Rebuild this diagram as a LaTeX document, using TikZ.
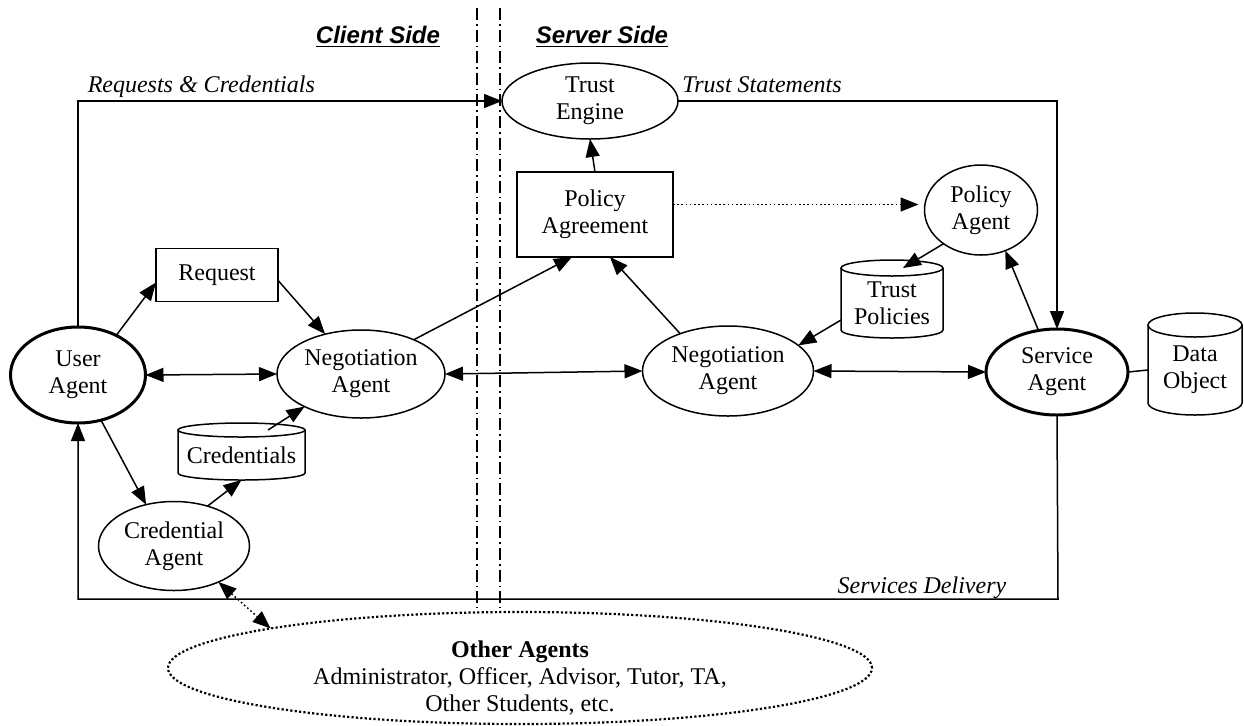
\documentclass[tikz,border=0pt]{standalone}
\usepackage{fontspec}
\setmainfont{Liberation Serif}
\newfontfamily\hsans{Liberation Sans}
\usetikzlibrary{shapes.geometric,arrows.meta}
\begin{document}
\begin{tikzpicture}[x=0.5pt,y=-0.5pt, line width=0.75pt,
  >={Triangle[length=9pt,width=7pt]},
  txt/.style={font=\fontsize{12pt}{13.5pt}\selectfont, align=center},
  ell/.style={txt, ellipse, draw, inner sep=0pt, outer sep=0pt},
  thickell/.style={ell, line width=1.5pt},
  box/.style={txt, rectangle, draw, inner sep=0pt, outer sep=0pt},
  cylnode/.style={txt, rectangle, inner sep=0pt, outer sep=0pt},
  dotline/.style={dash pattern=on 0.8pt off 1.3pt},
  bigdots/.style={line width=1.1pt, dash pattern=on 1.1pt off 1.1pt},
  sepline/.style={dash pattern=on 6pt off 2pt on 0.8pt off 2pt, line width=0.65pt},
  lab/.style={font=\fontsize{12pt}{13.5pt}\selectfont\itshape, inner sep=0pt},
  side/.style={font=\hsans\bfseries\itshape\fontsize{12pt}{14pt}\selectfont, inner sep=0pt}
]
\useasboundingbox (0,0) rectangle (1244,725);

% separators
\draw[sepline] (477,8) -- (477,608);
\draw[sepline] (500,8) -- (500,608);
\node[side] (cs) at (378,37) {\underline{Client Side}};
\node[side] (ss) at (602,37) {\underline{Server Side}};

% nodes
\node[thickell, minimum width=67.5pt, minimum height=48pt] (ua) at (78,375) {User\\Agent};
\node[box, minimum width=61pt, minimum height=26.5pt] (req) at (217,275) {Request};
\node[ell, minimum width=84pt, minimum height=44pt] (cneg) at (361,374) {Negotiation\\Agent};
\node[ell, minimum width=85.5pt, minimum height=45pt] (sneg) at (728,371) {Negotiation\\Agent};
\node[thickell, minimum width=71pt, minimum height=43pt] (sa) at (1057,372) {Service\\Agent};
\node[box, minimum width=78pt, minimum height=42.5pt] (pa) at (595,214.5) {Policy\\Agreement};
\node[ell, minimum width=88pt, minimum height=38pt] (te) at (590,101) {Trust\\Engine};
\node[ell, minimum width=56.5pt, minimum height=45pt] (pagt) at (981,210) {Policy\\Agent};
\node[ell, minimum width=75.5pt, minimum height=44.5pt] (ca) at (174,546) {Credential\\Agent};
\node[ellipse, draw, bigdots, minimum width=352pt, minimum height=56pt, inner sep=0pt, outer sep=0pt] (oa) at (520,668) {};
\node[txt] (oat) at (520,678) {\textbf{Other Agents}\\Administrator, Officer, Advisor, Tutor, TA,\\Other Students, etc.};

% cylinders
\draw (178,430) -- (178,473) arc[start angle=180,end angle=360,x radius=31.75pt,y radius=3.5pt] -- (305,430);
\draw (241.5,430) ellipse[x radius=31.75pt, y radius=3.5pt];
\node[cylnode, minimum width=63.5pt, minimum height=25pt] (cred) at (241.5,455) {Credentials};

\draw (841,268) -- (841,330) arc[start angle=180,end angle=360,x radius=25.5pt,y radius=4pt] -- (943,268);
\draw (892,268) ellipse[x radius=25.5pt, y radius=4pt];
\node[cylnode, minimum width=51pt, minimum height=35pt] (tp) at (892,303) {Trust\\Policies};

\draw (1148,325) -- (1148,403) arc[start angle=180,end angle=360,x radius=23.5pt,y radius=6pt] -- (1242,325);
\draw (1195,325) ellipse[x radius=23.5pt, y radius=6pt];
\node[cylnode, minimum width=47pt, minimum height=45pt] (do) at (1195,370) {Data\\Object};

% connectors
\draw[->] (ua.46) -- (req.187);
\draw[->] (req.355) -- (cneg.132);
\draw[<->] (ua.east) -- (cneg.west);
\draw[<->] (cneg.east) -- (sneg.west);
\draw[<->] (sneg.east) -- (sa.west);
\draw[->] (cneg.33) -- ([xshift=-11.5pt]pa.south);
\draw[->] (sneg.142) -- ([xshift=7.5pt]pa.south);
\draw[->] (pa.north) -- (te.south);
\draw[->, dotline, shorten >=3pt] ([yshift=5pt]pa.east) -- ([yshift=5pt]pa.east -| pagt.west);
\draw[->] (pagt.222) -- ([xshift=5.5pt]tp.north);
\draw[->] (sa.114) -- (pagt.301);
\draw[->] ([yshift=-8.5pt]tp.west) -- (sneg.20);
\draw[->] (ua.297) -- (ca.124);
\draw[->] (ca.50) -- (cred.south);
\draw[->] ([xshift=13.25pt]cred.north) -- (cneg.210);
\draw[<->, dotline] (ca.321) -- (oa.171);
\draw[->] (ua.north) |- (te.west);
\draw[->] (te.east) -| (sa.north);
\coordinate (sd) at (1058,599);
\draw[->] (sa.south) -- (sd) -| (ua.south);
\draw (sa.east) -- (do.west);

% labels
\node[lab, anchor=base west] (lrc) at (87,92) {Requests \& Credentials};
\node[lab, anchor=base] (lts) at (762,92) {Trust Statements};
\node[lab, anchor=base east] (lsd) at (1007,593) {Services Delivery};
\end{tikzpicture}
\end{document}
